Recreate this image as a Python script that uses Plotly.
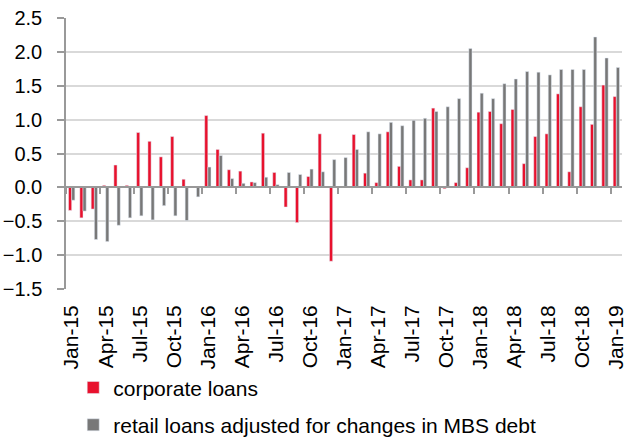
import plotly.graph_objects as go

months = [
    "Jan-15", "Feb-15", "Mar-15", "Apr-15", "May-15", "Jun-15", "Jul-15", "Aug-15", "Sep-15", "Oct-15", "Nov-15", "Dec-15",
    "Jan-16", "Feb-16", "Mar-16", "Apr-16", "May-16", "Jun-16", "Jul-16", "Aug-16", "Sep-16", "Oct-16", "Nov-16", "Dec-16",
    "Jan-17", "Feb-17", "Mar-17", "Apr-17", "May-17", "Jun-17", "Jul-17", "Aug-17", "Sep-17", "Oct-17", "Nov-17", "Dec-17",
    "Jan-18", "Feb-18", "Mar-18", "Apr-18", "May-18", "Jun-18", "Jul-18", "Aug-18", "Sep-18", "Oct-18", "Nov-18", "Dec-18",
    "Jan-19",
]

corporate = [
    -0.34, -0.45, -0.32, 0.03, 0.33, 0.03, 0.81, 0.68, 0.45, 0.75, 0.12, 0.00,
    1.06, 0.56, 0.26, 0.24, 0.08, 0.80, 0.22, -0.29, -0.52, 0.16, 0.79, -1.09,
    0.00, 0.78, 0.21, 0.07, 0.82, 0.31, 0.11, 0.11, 1.17, -0.02, 0.07, 0.29,
    1.11, 1.12, 0.94, 1.15, 0.35, 0.75, 0.79, 1.38, 0.23, 1.19, 0.93, 1.51,
    1.34,
]

retail = [
    -0.19, -0.35, -0.77, -0.80, -0.56, -0.45, -0.42, -0.48, -0.27, -0.42, -0.49, -0.14,
    0.30, 0.47, 0.13, 0.06, 0.07, 0.15, 0.04, 0.22, 0.19, 0.27, 0.23, 0.41,
    0.44, 0.56, 0.82, 0.79, 0.96, 0.91, 0.99, 1.02, 1.12, 1.19, 1.31, 2.05,
    1.39, 1.31, 1.53, 1.60, 1.71, 1.70, 1.66, 1.74, 1.74, 1.74, 2.22, 1.91,
    1.77,
]

tick_labels = months[::3]

RED = "#e8112d"
GRAY = "#787878"
FONT = "Liberation Sans, Arial, sans-serif"

fig = go.Figure()
fig.add_trace(go.Bar(x=months, y=corporate, name="corporate loans",
                     marker_color=RED, legendgroup="a"))
fig.add_trace(go.Bar(x=months, y=retail, name="retail loans adjusted for changes in MBS debt",
                     marker_color=GRAY, legendgroup="b"))
# leere Spur, damit die Null-Achse (x2) gezeichnet wird
fig.add_trace(go.Scatter(x=months, y=[None] * len(months), xaxis="x2",
                         showlegend=False, hoverinfo="skip"))

cat_range = [-0.5, len(months) - 0.5]

fig.update_layout(
    width=625, height=439,
    margin=dict(l=66, r=3, t=18, b=150, autoexpand=False),
    paper_bgcolor="white", plot_bgcolor="white",
    font=dict(family=FONT, color="#000000"),
    barmode="group", bargap=0.44, bargroupgap=0,
    xaxis=dict(
        type="category", categoryorder="array", categoryarray=months,
        range=cat_range, autorange=False, automargin=False,
        tickmode="array", tickvals=tick_labels, ticktext=tick_labels,
        tickangle=-90, tickfont=dict(size=21),
        ticks="", showline=False, showgrid=False, zeroline=False,
        ticklabelstandoff=11,
    ),
    xaxis2=dict(
        type="category", categoryorder="array", categoryarray=months,
        range=cat_range, autorange=False,
        overlaying="x", anchor="free", position=0.375,
        showline=True, linecolor="#999999", linewidth=1.5,
        ticks="outside", tickson="boundaries", tickmode="linear", tick0=0, dtick=3,
        ticklen=6, tickcolor="#999999", tickwidth=1.5,
        showticklabels=False, showgrid=False, zeroline=False,
    ),
    yaxis=dict(
        range=[-1.5, 2.5], dtick=0.5, tickformat=".1f", automargin=False,
        tickfont=dict(size=20),
        showline=True, linecolor="#999999", linewidth=1.5,
        ticks="outside", ticklen=7, tickcolor="#999999", tickwidth=1.5,
        showgrid=True, gridcolor="#d9d9d9", gridwidth=1.5,
        zeroline=False, ticklabelstandoff=11,
    ),
    legend=dict(
        orientation="v", x=0.013, xanchor="left", y=-0.289, yanchor="top",
        font=dict(size=21), traceorder="grouped", tracegroupgap=7,
        bgcolor="rgba(0,0,0,0)",
    ),
    showlegend=True,
)

# Body-Rand entfernen, damit die Grafik genau im Fenster sitzt
fig.write_html("out.html", config={"displayModeBar": False},
               post_script="document.body.style.margin='0';")
